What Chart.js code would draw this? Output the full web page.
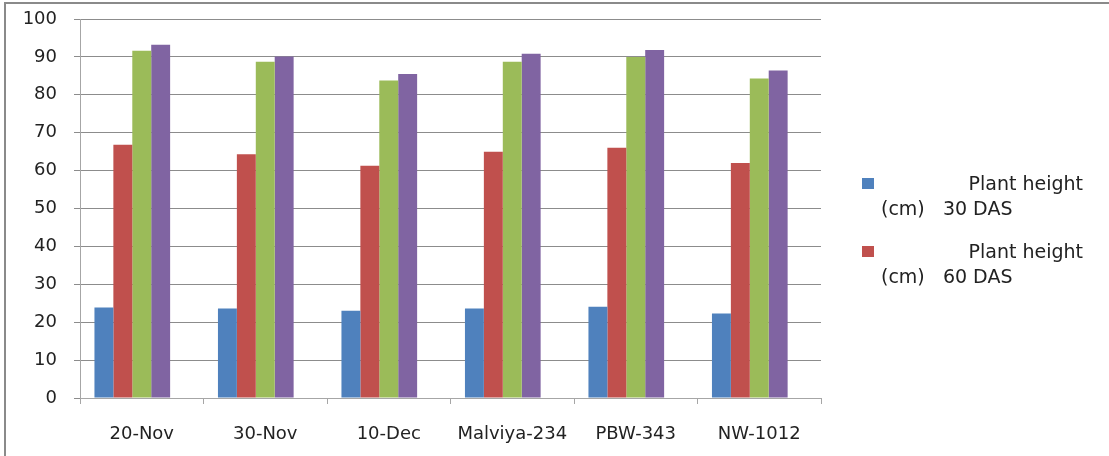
<!DOCTYPE html>
<html lang="en">
<head>
<meta charset="UTF-8">
<title>Plant height</title>
<script src="https://cdn.jsdelivr.net/npm/chart.js"></script>
<style>
    html, body { margin: 0; padding: 0; background: #fff; overflow: hidden; }
    #box { position: relative; width: 1109px; height: 456px; overflow: hidden; }
    #frame { position: absolute; left: 4px; top: 2px; width: 1103px; height: 452px;
             border-left: 2px solid #8a8a8a; border-top: 2px solid #8a8a8a; }
    #grafico { position: absolute; left: 0; top: 0; }
    #legenda { position: absolute; left: 862px; top: 171px; font-family: "DejaVu Sans", sans-serif;
               font-size: 19px; line-height: 25px; color: #222; }
    .item { position: relative; width: 225px; height: 68px; }
    .item .cor { position: absolute; left: 0; top: 7px; width: 12px; height: 11px; }
    .item .l1 { position: absolute; right: 4px; top: 0; white-space: pre; }
    .item .l2 { position: absolute; left: 19px; top: 25px; white-space: pre; }
</style>
</head>
<body>
<div id="box">
    <div id="frame"></div>
    <canvas id="grafico" width="1109" height="456"></canvas>
    <div id="legenda"></div>
</div>
<script>
    // dados
    var categorias = ['20-Nov', '30-Nov', '10-Dec', 'Malviya-234', 'PBW-343', 'NW-1012'];
    var altura30 = [23.9, 23.6, 23.0, 23.6, 24.1, 22.3];
    var altura60 = [66.8, 64.3, 61.3, 65.0, 66.0, 62.0];
    var altura90 = [91.6, 88.7, 83.8, 88.7, 90.0, 84.3];
    var alturaColheita = [93.2, 90.1, 85.5, 90.8, 91.8, 86.4];
    var serieVazia = [null, null, null, null, null, null]; // serie sem dados (ocupa o 5o lugar do grupo)
    var nomesSeries = ['Plant height (cm)   30 DAS', 'Plant height (cm)   60 DAS',
                       'Plant height (cm)   90 DAS', 'Plant height (cm)   at harvest', ''];
    var cores = ['#4f81bd', '#c0504d', '#9bbb59', '#8064a2', '#4bacc6'];
    var ticksY = [0, 10, 20, 30, 40, 50, 60, 70, 80, 90, 100];

    var series = [altura30, altura60, altura90, alturaColheita, serieVazia];
    var datasets = series.map(function (valores, i) {
        return {
            label: nomesSeries[i],
            data: valores,
            backgroundColor: cores[i],
            borderWidth: 0,
            categoryPercentage: 0.766,
            barPercentage: 1.0
        };
    });

    var fonte = { family: '"DejaVu Sans", sans-serif', size: 18 };

    new Chart(document.getElementById('grafico'), {
        type: 'bar',
        data: { labels: categorias, datasets: datasets },
        options: {
            responsive: false,
            animation: false,
            layout: { padding: { left: 0, top: 19, right: 288, bottom: 0 } },
            plugins: { legend: { display: false }, tooltip: { enabled: false } },
            scales: {
                x: {
                    grid: { offset: true, drawOnChartArea: false, color: '#a6a6a6', tickLength: 6 },
                    border: { color: '#a6a6a6', width: 1 },
                    ticks: { color: '#222', font: fonte, padding: 20 },
                    afterFit: function (s) { s.height = 58; }
                },
                y: {
                    min: 0, max: 100,
                    afterBuildTicks: function (s) { s.ticks = ticksY.map(function (v) { return { value: v }; }); },
                    grid: { color: '#8c8c8c', tickLength: 6 },
                    border: { color: '#a6a6a6', width: 1 },
                    ticks: { color: '#222', font: fonte, padding: 17 },
                    afterFit: function (s) { s.width = 80; s.paddingTop = 0; s.paddingBottom = 0; }
                }
            }
        }
    });

    // legenda (so as duas primeiras series aparecem no original)
    var legenda = document.getElementById('legenda');
    for (var i = 0; i < 2; i++) {
        var partes = nomesSeries[i].split(' (cm)');
        legenda.innerHTML += '<div class="item"><div class="cor" style="background:' + cores[i] + '"></div>' +
            '<div class="l1">' + partes[0] + '</div><div class="l2">(cm)' + partes[1] + '</div></div>';
    }
</script>
</body>
</html>
